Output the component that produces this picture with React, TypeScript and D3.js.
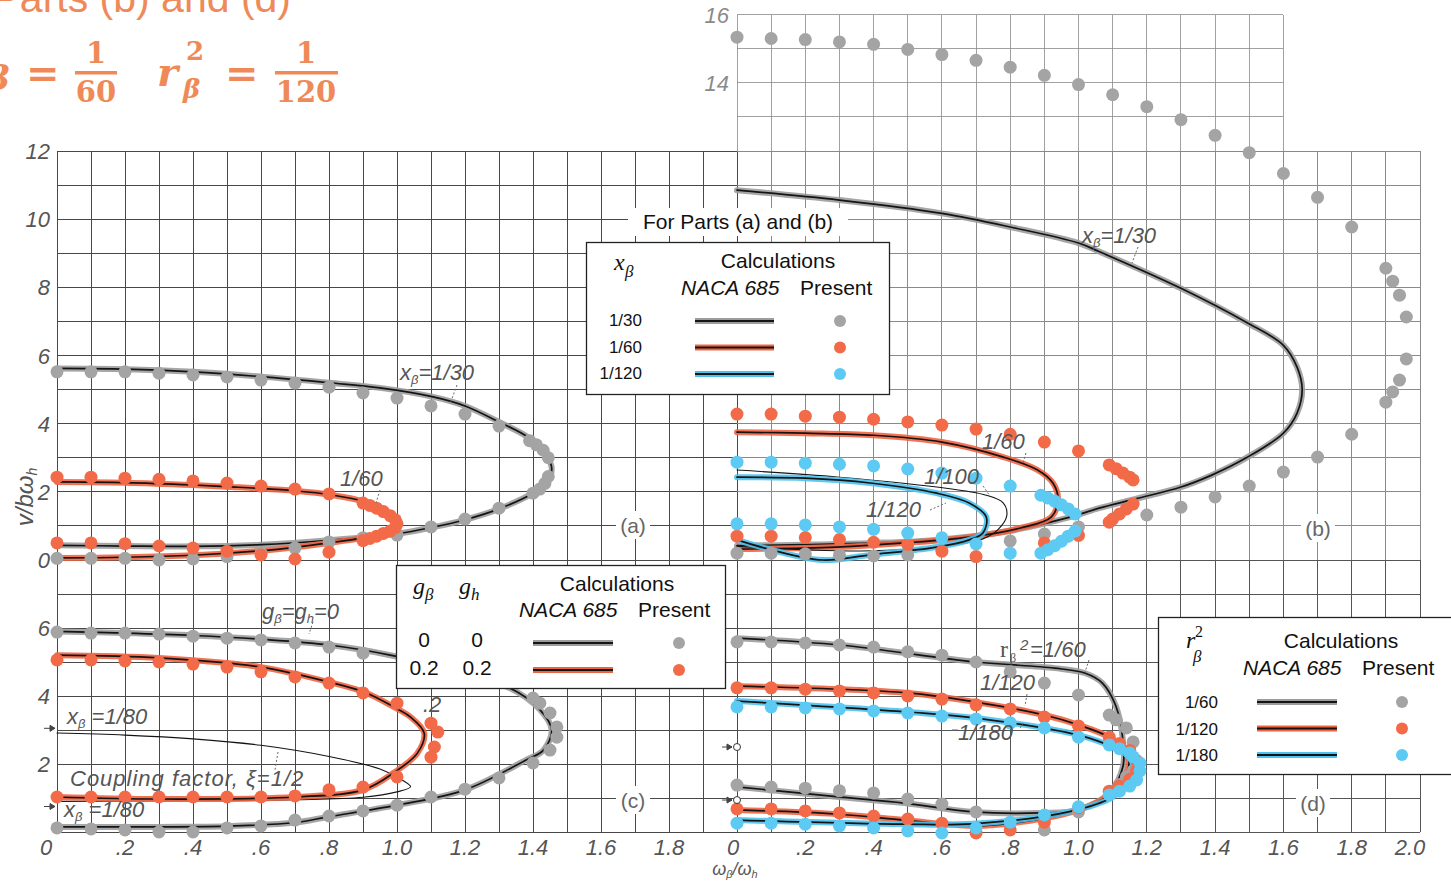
import React from "react";
import * as d3 from "d3";

type P = [number, number];

// ---------- axis ticks ----------
const xTicksLeft = [0, 0.2, 0.4, 0.6, 0.8, 1.0, 1.2, 1.4, 1.6, 1.8];
const xTicksRight = [0, 0.2, 0.4, 0.6, 0.8, 1.0, 1.2, 1.4, 1.6, 1.8, 2.0];
const yTicksTop = [0, 2, 4, 6, 8, 10, 12];
const yTicksTopExt = [14, 16];
const yTicksBottom = [2, 4, 6];

// ---------- part (a): x_beta effect, NACA 685 curves and present results ----------
const aNaca30: P[] = [[0, 5.62], [0.2, 5.6], [0.4, 5.52], [0.6, 5.38], [0.8, 5.2], [0.95, 5.05], [1.1, 4.8], [1.2, 4.52], [1.3, 4.05], [1.39, 3.57], [1.44, 3.05], [1.455, 2.7], [1.44, 2.25], [1.4, 1.96], [1.3, 1.5], [1.2, 1.18], [1.1, 0.95], [1.0, 0.77], [0.8, 0.58], [0.6, 0.45], [0.4, 0.4], [0.2, 0.41], [0, 0.43]];
const aPresent30: P[] = [[0, 5.52], [0.1, 5.52], [0.2, 5.52], [0.3, 5.48], [0.4, 5.43], [0.5, 5.37], [0.6, 5.28], [0.7, 5.19], [0.8, 5.07], [0.9, 4.9], [1.0, 4.75], [1.1, 4.52], [1.2, 4.28], [1.3, 3.93], [1.39, 3.5], [1.41, 3.38], [1.43, 3.22], [1.445, 3.0], [1.445, 2.45], [1.435, 2.25], [1.42, 2.08], [1.4, 1.96], [1.3, 1.52], [1.2, 1.2], [1.1, 0.97], [1.0, 0.73], [0.9, 0.65], [0.8, 0.53], [0.7, 0.35], [0.6, 0.2], [0.5, 0.1], [0.4, 0.03], [0.3, 0.0], [0.2, 0.05], [0.1, 0.05], [0, 0.05]];
const aNaca60: P[] = [[0, 2.29], [0.2, 2.27], [0.4, 2.2], [0.5, 2.15], [0.6, 2.1], [0.7, 2.03], [0.8, 1.92], [0.9, 1.72], [0.97, 1.4], [1.0, 1.02], [0.97, 0.8], [0.9, 0.65], [0.8, 0.5], [0.7, 0.37], [0.6, 0.27], [0.4, 0.14], [0.2, 0.08], [0, 0.06]];
const aPresent60: P[] = [[0, 2.43], [0.1, 2.43], [0.2, 2.4], [0.3, 2.37], [0.4, 2.32], [0.5, 2.26], [0.6, 2.17], [0.7, 2.08], [0.8, 1.94], [0.9, 1.67], [0.92, 1.6], [0.94, 1.52], [0.96, 1.42], [0.98, 1.3], [0.995, 1.18], [1.0, 1.06], [0.995, 0.95], [0.98, 0.85], [0.96, 0.78], [0.94, 0.7], [0.92, 0.63], [0.9, 0.57], [0.8, 0.23], [0.7, 0.03], [0.6, 0.15], [0.5, 0.26], [0.4, 0.35], [0.3, 0.41], [0.2, 0.48], [0.1, 0.5], [0, 0.5]];

// ---------- part (b) ----------
const bNaca30: P[] = [[0, 10.85], [0.3, 10.56], [0.6, 10.17], [0.8, 9.77], [1.0, 9.3], [1.06, 9.05], [1.3, 7.97], [1.49, 6.98], [1.6, 6.3], [1.64, 5.66], [1.655, 5.0], [1.64, 4.31], [1.6, 3.72], [1.49, 2.99], [1.39, 2.49], [1.3, 2.14], [1.17, 1.8], [1.06, 1.52], [0.975, 1.26], [0.78, 0.82], [0.585, 0.59], [0.4, 0.5], [0.2, 0.45], [0, 0.42]];
const bPresent30: P[] = [[0, 15.34], [0.1, 15.3], [0.2, 15.27], [0.3, 15.2], [0.4, 15.13], [0.5, 14.98], [0.6, 14.83], [0.7, 14.66], [0.8, 14.46], [0.9, 14.22], [1.0, 13.95], [1.1, 13.65], [1.2, 13.3], [1.3, 12.92], [1.4, 12.46], [1.5, 11.95], [1.6, 11.34], [1.7, 10.64], [1.8, 9.77], [1.9, 8.56], [1.92, 8.18], [1.94, 7.77], [1.96, 7.13], [1.96, 5.9], [1.94, 5.28], [1.92, 4.93], [1.9, 4.63], [1.8, 3.69], [1.7, 3.02], [1.6, 2.58], [1.5, 2.17], [1.4, 1.85], [1.3, 1.55], [1.2, 1.32], [1.0, 0.97], [0.9, 0.76], [0.8, 0.56], [0.5, 0.15], [0.4, 0.12], [0.3, 0.15], [0.2, 0.18], [0.1, 0.2], [0, 0.2]];
const bNaca60: P[] = [[0, 3.75], [0.2, 3.72], [0.4, 3.66], [0.6, 3.46], [0.78, 3.02], [0.88, 2.64], [0.925, 2.26], [0.94, 1.76], [0.92, 1.26], [0.83, 0.94], [0.68, 0.67], [0.49, 0.5], [0.29, 0.38], [0, 0.32]];
const bPresent60: P[] = [[0, 4.28], [0.1, 4.28], [0.2, 4.22], [0.3, 4.19], [0.4, 4.13], [0.5, 4.05], [0.6, 3.96], [0.7, 3.84], [0.8, 3.69], [0.9, 3.46], [1.0, 3.2], [1.09, 2.79], [1.11, 2.68], [1.13, 2.55], [1.15, 2.43], [1.16, 2.35], [1.16, 1.64], [1.14, 1.5], [1.12, 1.35], [1.1, 1.2], [1.09, 1.11], [1.0, 0.72], [0.9, 0.5], [0.7, 0.1], [0.6, 0.26], [0.5, 0.46], [0.4, 0.52], [0.3, 0.6], [0.2, 0.66], [0.1, 0.7], [0, 0.7]];
const bNaca100: P[] = [[0, 2.64], [0.3, 2.43], [0.585, 2.14], [0.73, 1.9], [0.78, 1.67], [0.79, 1.3], [0.765, 0.9], [0.72, 0.62], [0.6, 0.4], [0.4, 0.27], [0.2, 0.3], [0, 0.4]];
const bNaca120: P[] = [[0, 2.43], [0.2, 2.4], [0.39, 2.26], [0.585, 1.96], [0.68, 1.67], [0.73, 1.26], [0.72, 0.79], [0.68, 0.59], [0.585, 0.38], [0.39, 0.15], [0.25, 0.0], [0.1, 0.3], [0, 0.59]];
const bPresent120: P[] = [[0, 2.87], [0.1, 2.87], [0.2, 2.84], [0.3, 2.81], [0.4, 2.76], [0.5, 2.67], [0.6, 2.55], [0.7, 2.4], [0.8, 2.17], [0.89, 1.9], [0.91, 1.82], [0.93, 1.73], [0.95, 1.62], [0.97, 1.5], [0.99, 1.35], [0.99, 0.85], [0.97, 0.7], [0.95, 0.55], [0.93, 0.42], [0.91, 0.3], [0.89, 0.2], [0.8, 0.2], [0.7, 0.47], [0.6, 0.65], [0.5, 0.79], [0.4, 0.9], [0.3, 0.97], [0.2, 1.03], [0.1, 1.06], [0, 1.06]];

// ---------- part (c): damping effect ----------
const cNaca0: P[] = [[0, 5.9], [0.2, 5.85], [0.4, 5.78], [0.6, 5.67], [0.8, 5.5], [0.98, 5.2], [1.15, 4.75], [1.33, 4.24], [1.42, 3.6], [1.455, 3.0], [1.43, 2.4], [1.38, 2.12], [1.2, 1.24], [1.0, 0.79], [0.8, 0.45], [0.7, 0.28], [0.5, 0.17], [0.3, 0.15], [0, 0.15]];
const cPresent0: P[] = [[0, 5.88], [0.1, 5.85], [0.2, 5.85], [0.3, 5.82], [0.4, 5.76], [0.5, 5.7], [0.6, 5.65], [0.7, 5.56], [0.8, 5.44], [0.9, 5.26], [1.4, 3.94], [1.42, 3.79], [1.45, 3.5], [1.47, 3.09], [1.47, 2.79], [1.45, 2.41], [1.4, 2.03], [1.3, 1.59], [1.2, 1.26], [1.1, 1.03], [1.0, 0.79], [0.9, 0.62], [0.8, 0.47], [0.7, 0.35], [0.6, 0.18], [0.5, 0.12], [0.4, 0.0], [0.3, 0.0], [0.2, 0.06], [0.1, 0.09], [0, 0.12]];
const cNaca02: P[] = [[0, 5.2], [0.3, 5.12], [0.6, 4.85], [0.8, 4.41], [0.91, 4.09], [0.99, 3.68], [1.04, 3.38], [1.08, 2.91], [1.06, 2.32], [0.99, 1.74], [0.9, 1.24], [0.7, 1.03], [0.3, 0.97], [0, 1.03]];
const cPresent02: P[] = [[0, 5.06], [0.1, 5.06], [0.2, 5.03], [0.3, 5.0], [0.4, 4.94], [0.5, 4.85], [0.6, 4.71], [0.7, 4.56], [0.8, 4.38], [0.9, 4.09], [1.0, 3.79], [1.1, 3.2], [1.12, 2.94], [1.11, 2.5], [1.1, 2.2], [1.0, 1.62], [0.9, 1.32], [0.8, 1.24], [0.7, 1.06], [0.6, 1.03], [0.5, 1.03], [0.4, 1.03], [0.3, 1.03], [0.2, 1.03], [0.1, 1.03], [0, 1.03]];
const cNaca80: P[] = [[0, 2.91], [0.2, 2.85], [0.4, 2.74], [0.6, 2.55], [0.8, 2.22], [0.95, 1.85], [1.02, 1.5], [1.04, 1.33], [1.0, 1.18], [0.9, 1.02], [0.7, 0.95], [0.4, 0.92], [0, 0.9]];

// ---------- part (d): radius of gyration effect ----------
const dNaca60: P[] = [[0, 5.7], [0.3, 5.5], [0.7, 5.0], [0.93, 4.82], [1.02, 4.67], [1.07, 4.38], [1.11, 3.69], [1.13, 2.7], [1.13, 1.92], [1.09, 1.15], [1.0, 0.65], [0.89, 0.56], [0.69, 0.59], [0.49, 0.85], [0.29, 1.04], [0, 1.33]];
const dPresent60: P[] = [[0, 5.59], [0.1, 5.59], [0.2, 5.56], [0.3, 5.5], [0.4, 5.44], [0.5, 5.3], [0.6, 5.2], [0.7, 5.0], [0.8, 4.71], [0.9, 4.38], [1.0, 4.03], [1.09, 3.44], [1.11, 3.3], [1.14, 3.06], [1.16, 2.65], [1.16, 1.8], [1.14, 1.62], [1.12, 1.4], [1.09, 1.18], [1.0, 0.59], [0.9, 0.06], [0.7, 0.59], [0.6, 0.82], [0.5, 0.97], [0.4, 1.15], [0.3, 1.21], [0.2, 1.29], [0.1, 1.32], [0, 1.38]];
const dNaca120: P[] = [[0, 4.29], [0.5, 4.09], [0.7, 3.82], [0.9, 3.44], [1.0, 3.15], [1.09, 2.79], [1.135, 2.41], [1.148, 2.03], [1.135, 1.6], [1.1, 1.15], [1.0, 0.65], [0.83, 0.29], [0.69, 0.18], [0.49, 0.35], [0.29, 0.53], [0, 0.65]];
const dPresent120: P[] = [[0, 4.24], [0.1, 4.24], [0.2, 4.2], [0.3, 4.15], [0.4, 4.09], [0.5, 4.0], [0.6, 3.91], [0.7, 3.74], [0.8, 3.62], [0.9, 3.38], [1.0, 3.12], [1.09, 2.79], [1.12, 2.6], [1.15, 2.4], [1.17, 2.1], [1.17, 1.8], [1.15, 1.55], [1.12, 1.35], [1.09, 1.2], [1.0, 0.71], [0.9, 0.29], [0.8, 0.06], [0.7, -0.03], [0.6, 0.26], [0.5, 0.38], [0.4, 0.47], [0.3, 0.56], [0.2, 0.62], [0.1, 0.68], [0, 0.68]];
const dNaca180: P[] = [[0, 3.85], [0.5, 3.53], [0.7, 3.35], [1.0, 2.85], [1.1, 2.5], [1.15, 2.2], [1.16, 1.91], [1.145, 1.5], [1.1, 1.03], [0.97, 0.59], [0.69, 0.24], [0.49, 0.23], [0, 0.35]];
const dPresent180: P[] = [[0, 3.68], [0.1, 3.68], [0.2, 3.65], [0.3, 3.62], [0.4, 3.56], [0.5, 3.5], [0.6, 3.41], [0.7, 3.32], [0.8, 3.21], [0.9, 3.06], [1.0, 2.79], [1.09, 2.56], [1.12, 2.45], [1.15, 2.32], [1.16, 2.21], [1.18, 2.03], [1.18, 1.8], [1.17, 1.53], [1.15, 1.35], [1.12, 1.2], [1.09, 1.09], [1.0, 0.74], [0.9, 0.5], [0.8, 0.29], [0.7, 0.12], [0.6, -0.03], [0.5, 0.03], [0.4, 0.12], [0.3, 0.18], [0.2, 0.23], [0.1, 0.26], [0, 0.26]];
const dOpenMarks = [2.5, 0.94];

// ---------- legends ----------
const legendAB = ["1/30", "1/60", "1/120"];
const legendC = [["0", "0"], ["0.2", "0.2"]];
const legendD = ["1/60", "1/120", "1/180"];

// ---------- colours ----------
const GRAY_DOT = "#a4a4a4";
const ORANGE_DOT = "#f26a48";
const BLUE_DOT = "#5ccaf2";
const GRAY_HALO = "#9c9c9c";
const ORANGE_HALO = "#ef6440";
const BLUE_HALO = "#4ec2ee";
const CORE = "#141414";
const seriesColors = [
  { halo: GRAY_HALO, dot: GRAY_DOT },
  { halo: ORANGE_HALO, dot: ORANGE_DOT },
  { halo: BLUE_HALO, dot: BLUE_DOT },
];

// ---------- scales ----------
const xL = d3.scaleLinear().domain([0, 2]).range([57, 737]);
const xR = d3.scaleLinear().domain([0, 2]).range([737, 1420]);
const yT = d3.scaleLinear().domain([0, 12]).range([560, 151]);
const yB = d3.scaleLinear().domain([0, 8]).range([832, 560]);

type Sc = d3.ScaleLinear<number, number>;

const LETTER = "'Liberation Sans', Arial, sans-serif";
const LABEL_FILL = "#555";

function fmtX(v: number) {
  if (v === 0) return "0";
  if (v < 1) return "." + Math.round(v * 10);
  return v.toFixed(1);
}

function Loop({ pts, sx, sy, halo, thin }: { pts: P[]; sx: Sc; sy: Sc; halo?: string; thin?: boolean }) {
  const gen = d3
    .line<P>()
    .x((d) => sx(d[0]))
    .y((d) => sy(d[1]))
    .curve(d3.curveCatmullRom.alpha(0.5));
  const d = gen(pts) || "";
  return (
    <g fill="none" strokeLinejoin="round" strokeLinecap="round">
      {halo && <path d={d} stroke={halo} strokeWidth={6} opacity={0.9} />}
      <path d={d} stroke={CORE} strokeWidth={thin ? 1.1 : 1.7} />
    </g>
  );
}

function Dots({ pts, sx, sy, fill }: { pts: P[]; sx: Sc; sy: Sc; fill: string }) {
  return (
    <g fill={fill}>
      {pts.map((p, i) => (
        <circle key={i} cx={sx(p[0])} cy={sy(p[1])} r={6.5} />
      ))}
    </g>
  );
}

function Grid() {
  const tenths = d3.range(0, 21).map((i) => i / 10);
  const lines: JSX.Element[] = [];
  const leftCol = "#484848";
  const bCol = "#8a8a8a";
  const dCol = "#555";
  // verticals
  tenths.forEach((v, i) => {
    lines.push(<line key={"vl" + i} x1={xL(v)} x2={xL(v)} y1={yB(0)} y2={yT(12)} stroke={leftCol} />);
    lines.push(<line key={"vb" + i} x1={xR(v)} x2={xR(v)} y1={yT(0)} y2={yT(12)} stroke={i === 0 ? leftCol : bCol} />);
    lines.push(<line key={"vd" + i} x1={xR(v)} x2={xR(v)} y1={yB(0)} y2={yB(8)} stroke={i === 0 ? leftCol : dCol} />);
    if (v <= 1.6) lines.push(<line key={"ve" + i} x1={xR(v)} x2={xR(v)} y1={yT(12)} y2={yT(16)} stroke={bCol} strokeOpacity={0.8} />);
  });
  // horizontals
  d3.range(0, 13).forEach((j) => {
    lines.push(<line key={"ht" + j} x1={xL(0)} x2={xL(2)} y1={yT(j)} y2={yT(j)} stroke={leftCol} />);
    lines.push(<line key={"hb" + j} x1={xR(0)} x2={xR(2)} y1={yT(j)} y2={yT(j)} stroke={j === 0 ? dCol : bCol} />);
  });
  d3.range(0, 8).forEach((j) => {
    lines.push(<line key={"hc" + j} x1={xL(0)} x2={xL(2)} y1={yB(j)} y2={yB(j)} stroke={leftCol} />);
    lines.push(<line key={"hd" + j} x1={xR(0)} x2={xR(2)} y1={yB(j)} y2={yB(j)} stroke={dCol} />);
  });
  d3.range(13, 17).forEach((j) => {
    lines.push(<line key={"he" + j} x1={xR(0)} x2={xR(1.6)} y1={yT(j)} y2={yT(j)} stroke={bCol} strokeOpacity={0.8} />);
  });
  return <g strokeWidth={1} shapeRendering="crispEdges">{lines}</g>;
}

function Axes() {
  const base = 855;
  return (
    <g fontFamily={LETTER} fontStyle="italic" fontSize={22} fill={LABEL_FILL}>
      {yTicksTop.map((v) => (
        <text key={"yt" + v} x={50} y={yT(v) + 8} textAnchor="end">{v}</text>
      ))}
      {yTicksBottom.map((v) => (
        <text key={"yb" + v} x={50} y={yB(v) + 8} textAnchor="end">{v}</text>
      ))}
      {yTicksTopExt.map((v) => (
        <text key={"ye" + v} x={729} y={yT(v) + 8} textAnchor="end" fill="#8a8a8a">{v}</text>
      ))}
      {xTicksLeft.map((v) => (
        <text key={"xl" + v} x={v === 0 ? xL(v) - 11 : xL(v)} y={base} textAnchor="middle">{fmtX(v)}</text>
      ))}
      {xTicksRight.map((v) => (
        <text key={"xr" + v} x={v === 0 ? xR(v) - 4 : v === 2 ? xR(v) - 10 : xR(v)} y={base} textAnchor="middle">{fmtX(v)}</text>
      ))}
      <text transform="translate(33,497) rotate(-90)" textAnchor="middle" fontSize={24}>
        v/bω<tspan fontSize={14} dy={4}>h</tspan>
      </text>
      <text x={735} y={875} textAnchor="middle" fontSize={18}>
        ω<tspan fontSize={11} dy={3}>β</tspan>
        <tspan dy={-3}>/ω</tspan>
        <tspan fontSize={11} dy={3}>h</tspan>
      </text>
    </g>
  );
}

function PanelTag({ x, y, t }: { x: number; y: number; t: string }) {
  return (
    <g>
      <rect x={x - 17} y={y - 14} width={34} height={28} fill="#fff" />
      <text x={x} y={y + 8} textAnchor="middle" fontFamily={LETTER} fontSize={21} fill="#666">{t}</text>
    </g>
  );
}

function Leader({ x1, y1, x2, y2 }: { x1: number; y1: number; x2: number; y2: number }) {
  return <line x1={x1} y1={y1} x2={x2} y2={y2} stroke="#666" strokeWidth={1} strokeDasharray="2 2" />;
}

function Annotations() {
  const s = { fontFamily: LETTER, fontStyle: "italic" as const, fontSize: 22, fill: LABEL_FILL };
  const sub = 13;
  return (
    <g>
      {/* part (a) */}
      <text x={400} y={380} {...s}>x<tspan fontSize={sub} dy={4}>β</tspan><tspan dy={-4}>=1/30</tspan></text>
      <Leader x1={457} y1={385} x2={450} y2={404} />
      <text x={340} y={486} {...s}>1/60</text>
      <Leader x1={380} y1={490} x2={376} y2={503} />
      {/* part (b) */}
      <text x={1082} y={243} {...s}>x<tspan fontSize={sub} dy={4}>β</tspan><tspan dy={-4}>=1/30</tspan></text>
      <Leader x1={1138} y1={247} x2={1132} y2={263} />
      <text x={982} y={449} {...s}>1/60</text>
      <Leader x1={1026} y1={453} x2={1023} y2={463} />
      <text x={924} y={484} {...s}>1/100</text>
      <Leader x1={983} y1={486} x2={990} y2={496} />
      <text x={866} y={517} {...s}>1/120</text>
      <Leader x1={930} y1={510} x2={946} y2={503} />
      {/* part (c) */}
      <text x={262} y={619} {...s}>g<tspan fontSize={sub} dy={4}>β</tspan><tspan dy={-4}>=g</tspan><tspan fontSize={sub} dy={4}>h</tspan><tspan dy={-4}>=0</tspan></text>
      <Leader x1={313} y1={622} x2={309} y2={634} />
      <text x={67} y={724} {...s}>x<tspan fontSize={sub} dy={4}>β</tspan><tspan dy={-4}> =1/80</tspan></text>
      <text x={70} y={786} {...s} letterSpacing={1}>Coupling  factor,  ξ=1/2</text>
      <Leader x1={278} y1={752} x2={275} y2={770} />
      <text x={64} y={817} {...s}>x<tspan fontSize={sub} dy={4}>β</tspan><tspan dy={-4}> =1/80</tspan></text>
      <text x={423} y={712} {...s}>.2</text>
      {/* small arrows at the ordinate */}
      <g stroke="#444" strokeWidth={1} fill="#444">
        <line x1={44} y1={yB(3.05)} x2={55} y2={yB(3.05)} />
        <path d={`M55,${yB(3.05)} l-5,-3 v6 z`} />
        <line x1={44} y1={yB(0.75)} x2={55} y2={yB(0.75)} />
        <path d={`M55,${yB(0.75)} l-5,-3 v6 z`} />
        {dOpenMarks.map((v, i) => (
          <g key={i}>
            <line x1={722} y1={yB(v)} x2={732} y2={yB(v)} />
            <path d={`M732,${yB(v)} l-5,-3 v6 z`} />
          </g>
        ))}
      </g>
      {dOpenMarks.map((v, i) => (
        <circle key={"o" + i} cx={xR(0)} cy={yB(v)} r={3.5} fill="#fff" stroke="#333" strokeWidth={1} />
      ))}
      {/* part (d) */}
      <text x={1000} y={657} fontFamily="'Liberation Serif', serif" fontSize={24} fill={LABEL_FILL}>r</text>
      <text x={1010} y={662} fontFamily="'Liberation Serif', serif" fontSize={12} fill={LABEL_FILL}>β</text>
      <text x={1020} y={650} fontFamily={LETTER} fontSize={15} fontStyle="italic" fill={LABEL_FILL}>2</text>
      <text x={1030} y={657} {...s}>=1/60</text>
      <Leader x1={1089} y1={660} x2={1085} y2={672} />
      <text x={980} y={690} {...s}>1/120</text>
      <Leader x1={1027} y1={694} x2={1025} y2={706} />
      <line x1={952} y1={730} x2={958} y2={730} stroke="#666" />
      <text x={958} y={740} {...s}>1/180</text>
      <Leader x1={1020} y1={728} x2={1024} y2={722} />
    </g>
  );
}

function LegendRowLine({ x1, x2, y, halo }: { x1: number; x2: number; y: number; halo: string }) {
  return (
    <g>
      <line x1={x1} x2={x2} y1={y} y2={y} stroke={halo} strokeWidth={6} />
      <line x1={x1} x2={x2} y1={y} y2={y} stroke={CORE} strokeWidth={1.8} />
    </g>
  );
}

function Legends() {
  const f = { fontFamily: LETTER, fill: "#111" };
  const serif = "'Liberation Serif', serif";
  return (
    <g>
      {/* Parts (a) and (b) */}
      <rect x={628} y={208} width={220} height={28} fill="#fff" />
      <text x={738} y={229} textAnchor="middle" fontSize={21} {...f}>For Parts (a) and (b)</text>
      <rect x={586.5} y={242.5} width={303} height={152} fill="#fff" stroke="#222" strokeWidth={1.3} />
      <text x={614} y={270} fontSize={24} fontStyle="italic" fontFamily={serif} fill="#111">x</text>
      <text x={625} y={277} fontSize={17} fontStyle="italic" fontFamily={serif} fill="#111">β</text>
      <text x={778} y={268} textAnchor="middle" fontSize={21} {...f}>Calculations</text>
      <text x={681} y={295} fontSize={21} fontStyle="italic" {...f}>NACA 685</text>
      <text x={800} y={295} fontSize={21} {...f}>Present</text>
      {legendAB.map((t, i) => (
        <g key={t}>
          <text x={642} y={326 + i * 26.5} textAnchor="end" fontSize={17} {...f}>{t}</text>
          <LegendRowLine x1={695} x2={774} y={321 + i * 26.5} halo={seriesColors[i].halo} />
          <circle cx={840} cy={321 + i * 26.5} r={6} fill={seriesColors[i].dot} />
        </g>
      ))}

      {/* Part (c) */}
      <rect x={396.5} y={565.5} width={329} height={123} fill="#fff" stroke="#222" strokeWidth={1.3} />
      <text x={413} y={594} fontSize={24} fontStyle="italic" fontFamily={serif} fill="#111">g</text>
      <text x={425} y={600} fontSize={17} fontStyle="italic" fontFamily={serif} fill="#111">β</text>
      <text x={459} y={594} fontSize={24} fontStyle="italic" fontFamily={serif} fill="#111">g</text>
      <text x={471} y={600} fontSize={17} fontStyle="italic" fontFamily={serif} fill="#111">h</text>
      <text x={617} y={591} textAnchor="middle" fontSize={21} {...f}>Calculations</text>
      <text x={519} y={617} fontSize={21} fontStyle="italic" {...f}>NACA 685</text>
      <text x={638} y={617} fontSize={21} {...f}>Present</text>
      {legendC.map((r, i) => (
        <g key={i}>
          <text x={424} y={647 + i * 28} textAnchor="middle" fontSize={21} {...f}>{r[0]}</text>
          <text x={477} y={647 + i * 28} textAnchor="middle" fontSize={21} {...f}>{r[1]}</text>
          <LegendRowLine x1={533} x2={613} y={643 + i * 27} halo={seriesColors[i].halo} />
          <circle cx={679} cy={643 + i * 27} r={6} fill={seriesColors[i].dot} />
        </g>
      ))}

      {/* Part (d) */}
      <rect x={1158.5} y={617.5} width={310} height={157} fill="#fff" stroke="#222" strokeWidth={1.3} />
      <text x={1186} y={648} fontSize={24} fontStyle="italic" fontFamily={serif} fill="#111">r</text>
      <text x={1195} y={637} fontSize={16} fontFamily={serif} fill="#111">2</text>
      <text x={1193} y={662} fontSize={17} fontStyle="italic" fontFamily={serif} fill="#111">β</text>
      <text x={1341} y={648} textAnchor="middle" fontSize={21} {...f}>Calculations</text>
      <text x={1243} y={675} fontSize={21} fontStyle="italic" {...f}>NACA 685</text>
      <text x={1362} y={675} fontSize={21} {...f}>Present</text>
      {legendD.map((t, i) => (
        <g key={t}>
          <text x={1218} y={708 + i * 26.5} textAnchor="end" fontSize={17} {...f}>{t}</text>
          <LegendRowLine x1={1257} x2={1337} y={702 + i * 26.5} halo={seriesColors[i].halo} />
          <circle cx={1402} cy={702 + i * 26.5} r={6} fill={seriesColors[i].dot} />
        </g>
      ))}
    </g>
  );
}

function Heading() {
  const orange = "#ef8a58";
  const serif = "'DejaVu Serif', 'Liberation Serif', serif";
  return (
    <g fill={orange}>
      <text x={291} y={12} textAnchor="end" fontFamily={LETTER} fontSize={41}>For Parts (b) and (d)</text>
      <g fontFamily={serif} fontWeight="bold">
        <text x={-13} y={90} fontSize={34} fontStyle="italic">β</text>
        <text x={26} y={87} fontSize={40}>=</text>
        <text x={96} y={63} fontSize={29} textAnchor="middle">1</text>
        <rect x={75} y={71} width={42} height={3.5} />
        <text x={96} y={102} fontSize={29} textAnchor="middle">60</text>
        <text x={157} y={86} fontSize={40} fontStyle="italic">r</text>
        <text x={186} y={60} fontSize={26}>2</text>
        <text x={183} y={98} fontSize={26} fontStyle="italic">β</text>
        <text x={225} y={87} fontSize={40}>=</text>
        <text x={306} y={63} fontSize={29} textAnchor="middle">1</text>
        <rect x={275} y={71} width={63} height={3.5} />
        <text x={306} y={102} fontSize={29} textAnchor="middle">120</text>
      </g>
    </g>
  );
}

export default function App() {
  return (
    <svg
      width={1451}
      height={882}
      viewBox="0 0 1451 882"
      style={{ position: "absolute", left: 0, top: 0, background: "#fff" }}
    >
      <rect width={1451} height={882} fill="#fff" />
      <Grid />
      <Axes />
      <Heading />

      {/* curves */}
      <Loop pts={aNaca30} sx={xL} sy={yT} halo={GRAY_HALO} />
      <Loop pts={aNaca60} sx={xL} sy={yT} halo={ORANGE_HALO} />
      <Loop pts={bNaca30} sx={xR} sy={yT} halo={GRAY_HALO} />
      <Loop pts={bNaca60} sx={xR} sy={yT} halo={ORANGE_HALO} />
      <Loop pts={bNaca100} sx={xR} sy={yT} thin />
      <Loop pts={bNaca120} sx={xR} sy={yT} halo={BLUE_HALO} />
      <Loop pts={cNaca0} sx={xL} sy={yB} halo={GRAY_HALO} />
      <Loop pts={cNaca80} sx={xL} sy={yB} thin />
      <Loop pts={cNaca02} sx={xL} sy={yB} halo={ORANGE_HALO} />
      <Loop pts={dNaca60} sx={xR} sy={yB} halo={GRAY_HALO} />
      <Loop pts={dNaca120} sx={xR} sy={yB} halo={ORANGE_HALO} />
      <Loop pts={dNaca180} sx={xR} sy={yB} halo={BLUE_HALO} />

      {/* present results */}
      <Dots pts={aPresent30} sx={xL} sy={yT} fill={GRAY_DOT} />
      <Dots pts={aPresent60} sx={xL} sy={yT} fill={ORANGE_DOT} />
      <Dots pts={bPresent30} sx={xR} sy={yT} fill={GRAY_DOT} />
      <Dots pts={bPresent60} sx={xR} sy={yT} fill={ORANGE_DOT} />
      <Dots pts={bPresent120} sx={xR} sy={yT} fill={BLUE_DOT} />
      <Dots pts={cPresent0} sx={xL} sy={yB} fill={GRAY_DOT} />
      <Dots pts={cPresent02} sx={xL} sy={yB} fill={ORANGE_DOT} />
      <Dots pts={dPresent60} sx={xR} sy={yB} fill={GRAY_DOT} />
      <Dots pts={dPresent120} sx={xR} sy={yB} fill={ORANGE_DOT} />
      <Dots pts={dPresent180} sx={xR} sy={yB} fill={BLUE_DOT} />

      <PanelTag x={633} y={525} t="(a)" />
      <PanelTag x={1318} y={528} t="(b)" />
      <PanelTag x={633} y={800} t="(c)" />
      <PanelTag x={1313} y={803} t="(d)" />

      <Annotations />
      <Legends />
    </svg>
  );
}
